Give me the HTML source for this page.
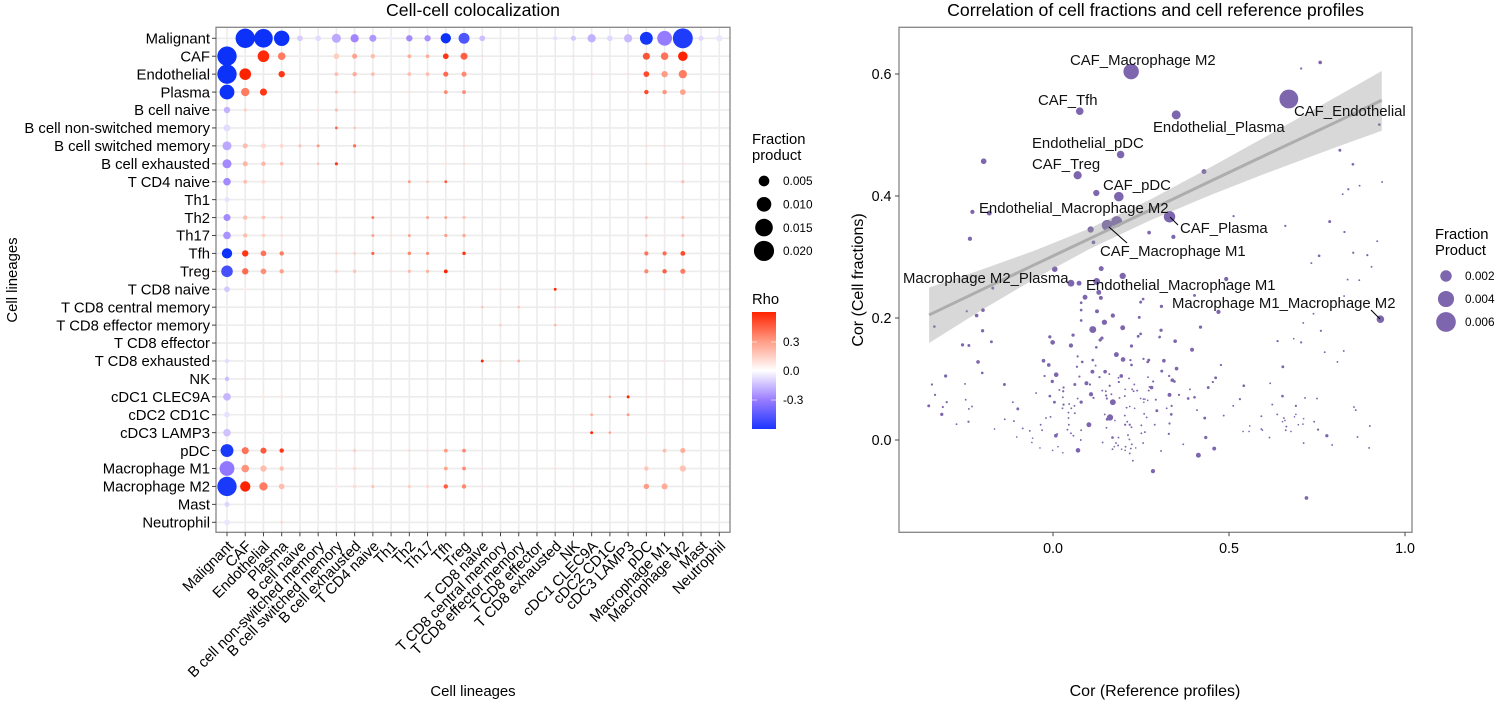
<!DOCTYPE html>
<html lang="en">
<head>
<meta charset="utf-8">
<title>Cell-cell colocalization</title>
<style>
html,body{margin:0;padding:0;background:#fff;width:1500px;height:705px;overflow:hidden}
svg{display:block;font-family:"Liberation Sans",Arial,sans-serif;fill:#000}
</style>
</head>
<body>
<svg id="figure" xmlns="http://www.w3.org/2000/svg" width="1500" height="705" viewBox="0 0 1500 705">
  <defs>
    <linearGradient id="rhoGradient" x1="0" y1="0" x2="0" y2="1">
      <stop offset="0" stop-color="#ff2200"/>
      <stop offset="0.25" stop-color="#ff9c85"/>
      <stop offset="0.5" stop-color="#ffffff"/>
      <stop offset="0.75" stop-color="#9a7dff"/>
      <stop offset="1" stop-color="#1c35ff"/>
    </linearGradient>
  </defs>
  <g id="leftPanel"></g>
  <g id="rightPanel"></g>

  <text x="473" y="16" text-anchor="middle" font-size="17.7">Cell-cell colocalization</text>
  <text x="473" y="696" text-anchor="middle" font-size="14.9">Cell lineages</text>
  <text transform="translate(17,280) rotate(-90)" text-anchor="middle" font-size="14.9">Cell lineages</text>

  <text x="1155.5" y="16" text-anchor="middle" font-size="17.7">Correlation of cell fractions and cell reference profiles</text>
  <text x="1155" y="696" text-anchor="middle" font-size="16">Cor (Reference profiles)</text>
  <text transform="translate(863,280) rotate(-90)" text-anchor="middle" font-size="16">Cor (Cell fractions)</text>

  <g id="leftSizeLegend">
    <text font-size="14.8" x="752" y="144">Fraction</text>
    <text font-size="14.8" x="752" y="160">product</text>
  </g>
  <g id="rhoLegend">
    <text font-size="14.8" x="752" y="304">Rho</text>
    <rect x="752" y="312" width="24" height="117" fill="url(#rhoGradient)"/>
  </g>
  <g id="rightSizeLegend">
    <text font-size="14.8" x="1435" y="239">Fraction</text>
    <text font-size="14.8" x="1435" y="255">Product</text>
  </g>
</svg>

<script>
/* ---------- left chart data ---------- */
const lineages = ["Malignant","CAF","Endothelial","Plasma","B cell naive","B cell non-switched memory","B cell switched memory","B cell exhausted","T CD4 naive","Th1","Th2","Th17","Tfh","Treg","T CD8 naive","T CD8 central memory","T CD8 effector memory","T CD8 effector","T CD8 exhausted","NK","cDC1 CLEC9A","cDC2 CD1C","cDC3 LAMP3","pDC","Macrophage M1","Macrophage M2","Mast","Neutrophil"];

const colsByRow = [
[1,2,3,4,5,6,7,8,9,10,11,12,13,14,18,19,20,21,22,23,24,25,26,27],
[0,2,3,4,6,7,8,10,11,12,13,14,18,19,23,24,25],
[0,1,3,6,7,8,10,11,12,13,20,22,23,24,25],
[0,1,2,6,7,10,12,13,20,22,23,24,25,27],
[0,1,5,6,7],
[0,4,6,7],
[0,1,2,3,4,5,7,12,13,23,24],
[0,1,2,3,4,5,6,12,13,23,25],
[0,1,2,10,11,12,13,23,25],
[0],
[0,1,2,3,8,11,12,13,23,25],
[0,1,2,3,8,9,10,12,13,23,24,25],
[0,1,2,3,6,7,8,10,11,13,22,23,24,25],
[0,1,2,3,6,7,9,10,11,12,23,24,25],
[0,1,15,18,24,25],
[14,16,18],
[15,18,14],
[],
[0,1,14,15,16,24],
[0,1,25],
[0,2,3,21,22,23],
[0,20,22],
[0,2,3,20,21,23],
[0,1,2,3,6,7,8,10,11,12,13,20,22,24,25],
[0,1,2,3,6,7,8,10,11,12,13,14,18,23,25],
[0,1,2,3,6,7,8,10,11,12,13,14,19,23,24],
[0],
[0,3,13]
];

const rhoByRow = [
[-.6,-.6,-.6,-.12,-.08,-.2,-.28,-.24,-.04,-.27,-.25,-.6,-.46,-.15,-.07,-.13,-.18,-.09,-.16,-.58,-.31,-.56,-.09,-.06],
[-.6,.58,.38,.05,.15,.28,.2,.25,.25,.55,.45,.1,.08,.1,.48,.4,.6],
[-.6,.6,.55,.2,.25,.2,.2,.2,.42,.35,.1,.1,.5,.3,.38],
[-.6,.38,.55,.2,.15,.1,.35,.35,.08,.08,.5,.32,.28,.1],
[-.18,.15,.1,.2,.1],
[-.08,.1,.42,.2],
[-.2,.2,.12,.12,.2,.32,.42,.08,.1,.1,.1],
[-.27,.22,.22,.2,.08,.2,.55,.1,.12,.12,.1],
[-.27,.2,.12,.3,.2,.45,.06,.06,.2],
[-.07],
[-.27,.2,.18,.15,.4,.3,.3,.2,.2,.2],
[-.25,.2,.15,.1,.3,.1,.3,.3,.25,.2,.08,.2],
[-.6,.55,.4,.38,.12,.15,.45,.35,.35,.55,.08,.4,.42,.5],
[-.48,.42,.33,.28,.15,.18,.1,.22,.25,.6,.35,.45,.38],
[-.13,.06,.1,.6,.1,.06],
[.2,.2,.1],
[.15,.25,.06],
[],
[-.08,.05,.6,.1,.25,.08],
[-.15,.1,.08],
[-.17,.07,.08,.3,.6,.08],
[-.07,.25,.3],
[-.14,.06,.05,.6,.3,.08],
[-.57,.4,.47,.55,.08,.15,.08,.12,.1,.3,.35,.06,.06,.2,.25],
[-.32,.32,.2,.2,.07,.1,.08,.06,.06,.28,.35,.1,.1,.17,.18],
[-.57,.6,.38,.2,.06,.1,.18,.15,.12,.45,.35,.1,.08,.3,.25],
[-.1],
[-.06,.15,.05]
];

const fracByRow = [
[.0183,.017,.0113,.00114,.00114,.0034,.0028,.0019,.00037,.0015,.0015,.0046,.0053,.00114,.00058,.00084,.0028,.00114,.0028,.0076,.0103,.0196,.00084,.0015],
[.0183,.006,.0023,.00015,.00114,.00084,.00058,.00037,.00037,.00114,.0019,.00009,.00005,.00005,.0019,.0023,.0039],
[.0183,.006,.0015,.00037,.00058,.00037,.00037,.00037,.00084,.00084,.00009,.00009,.00114,.0015,.0028],
[.0103,.0028,.0019,.00015,.00015,.00009,.00037,.00037,.00005,.00005,.00058,.00058,.00114,.00005],
[.0015,.00021,.00005,.00021,.00009],
[.0019,.00009,.00015,.00009],
[.0034,.00084,.00084,.00037,.00015,.00015,.00021,.00005,.00009,.00009,.00009],
[.0034,.00084,.00058,.00029,.00005,.00009,.00021,.00009,.00009,.00009,.00009],
[.0023,.00037,.00037,.00015,.00009,.00015,.00005,.00005,.00021],
[.00084],
[.0019,.00058,.00037,.00015,.00015,.00015,.00015,.00021,.00015,.00021],
[.0023,.00047,.00029,.00015,.00015,.00009,.00015,.00021,.00029,.00015,.00005,.00021],
[.0046,.0015,.00114,.00058,.00015,.00015,.00021,.00029,.00021,.00029,.00005,.00047,.00047,.0007],
[.006,.0015,.00114,.00058,.00021,.00029,.00009,.00021,.00021,.00037,.00047,.00058,.00084],
[.00114,.00021,.00009,.00015,.00009,.00005],
[.00009,.00009,.00009],
[.00015,.00009,.00002],
[],
[.00058,.00005,.00015,.00015,.00015,.00005],
[.00058,.00009,.00005],
[.0023,.00015,.00015,.00009,.00015,.00005],
[.00114,.00015,.00015],
[.0023,.00009,.00005,.00015,.00009,.00005],
[.0076,.0019,.0013,.00058,.00009,.00021,.00009,.00009,.00009,.00037,.00037,.00005,.00005,.00037,.00084],
[.0103,.0023,.0015,.00058,.00021,.00037,.00009,.00009,.00005,.00037,.00037,.00005,.00009,.00058,.0015],
[.0183,.0046,.0028,.00114,.00021,.00037,.00021,.00021,.00021,.00058,.00058,.00005,.00005,.00099,.0013],
[.00084],
[.00114,.00009,.00002]
];

const sizeLegendFracs = [0.005,0.010,0.015,0.020];
const sizeLegendLabels = ["0.005","0.010","0.015","0.020"];
const rhoLegendTicks = [0.3,0.0,-0.3];
const rhoLegendLabels = ["0.3","0.0","-0.3"];

/* ---------- right chart data ---------- */
const pointX = [
.222,.076,.192,-.197,.070,.123,.187,-.229,-.181,.107,.154,.181,.273,.115,-.236,.005,.137,.198,
.670,.350,.759,.705,.429,.815,.852,.927,.871,.935,.839,.823,.331,.342,.513,.660,.786,.828,.921,.756,.853,.893,.734,.905,
.492,.837,.870,.402,.827,.308,.470,.930,.740,.711,
.307,.419,.761,.303,.347,.638,.684,.705,.395,.772,
.826,.808,.315,.477,.653,.351,.309,.330,.339,.345,
.284,.462,.454,.441,.542,.617,.280,.389,.331,.358,
.384,.402,.652,.716,.750,.531,.512,.292,.623,.690,
.323,.337,.295,.409,.336,.855,.860,.485,.592,.637,
.690,.686,.656,.659,.652,.712,.742,.431,.289,.331,
.559,.663,.697,.710,.900,.592,.595,.661,.676,.540,
.557,.753,.329,.434,.615,.778,.865,.712,.793,.370,
.898,.458,.307,.413,.284,.720,
.051,.074,.124,.130,.091,.136,.080,.256,.249,.080,
.125,.170,.245,.080,.146,.113,.198,.249,.242,.302,
-.009,.057,.139,.134,-.001,.051,.123,.223,.180,.199,
.220,.223,.257,.272,.269,.070,.083,.113,.121,-.027,
-.012,.068,.112,.148,.160,.009,-.024,.075,.132,.194,
.186,.216,.270,.285,-.002,.095,.105,.062,.161,.187,
.231,.274,.281,.272,.225,.239,.229,.030,.018,.029,
-.048,.140,.150,.166,.151,.205,.204,.189,.108,.115,
.153,-.009,.028,.070,.004,.080,.170,.249,.257,.261,
.269,.258,.292,.030,.046,.061,.052,.027,.044,.062,
.209,.218,.232,.259,.266,.147,.204,.162,.154,.176,
-.020,-.007,.044,.211,.205,.218,.223,.251,.102,.152,
.045,.041,-.035,-.031,-.086,-.066,-.111,-.137,-.166,-.103,
-.058,-.060,-.037,-.001,.014,.028,.071,.008,.012,.051,
.058,.080,.079,.169,.186,.213,.217,.224,.179,.185,
.174,.169,.195,.206,.205,.218,.221,.235,.141,.256,
.251,.261,.227,-.114,-.100,-.353,-.313,-.302,-.335,-.344,
-.305,-.250,-.248,-.239,-.230,-.316,-.274,-.240,-.138,-.201,
-.213,-.175,-.200,-.257,-.239,-.217,-.199,-.245,-.337,-.171
];

const pointY = [
.604,.539,.468,.457,.434,.405,.399,.374,.372,.345,.352,.358,.340,.324,.330,.280,.281,.269,
.559,.533,.619,.609,.440,.475,.452,.517,.417,.423,.411,.403,.366,.333,.367,.351,.358,.341,.326,.302,.307,.303,.290,.284,
.264,.263,.262,.237,.236,.219,.210,.198,.207,.192,
.180,.185,.179,.169,.162,.162,.166,.160,.148,.144,
.146,.128,.130,.123,.120,.117,.113,.105,.098,.096,
.096,.102,.095,.086,.089,.093,.086,.083,.074,.074,
.068,.070,.072,.069,.068,.067,.056,.066,.058,.056,
.052,.056,.048,.049,.042,.054,.049,.040,.039,.042,
.042,.038,.036,.032,.030,.035,.030,.036,.025,.027,
.023,.022,.025,.026,.023,.018,.016,.016,.014,.014,
.014,.017,.010,.004,.004,.007,.005,-.005,-.008,-.007,
-.013,-.014,-.018,-.025,-.051,-.095,
.257,.257,.260,.242,.234,.233,.225,.231,.226,.213,
.211,.204,.201,.196,.193,.181,.184,.174,.170,.168,
.169,.172,.167,.164,.160,.155,.152,.154,.140,.132,
.131,.123,.133,.131,.128,.137,.128,.131,.122,.130,
.123,.120,.112,.112,.108,.107,.105,.104,.103,.105,
.102,.101,.103,.096,.096,.093,.091,.091,.089,.095,
.091,.087,.086,.081,.083,.081,.080,.086,.082,.080,
.077,.081,.080,.075,.073,.083,.072,.069,.075,.069,
.068,.072,.070,.068,.062,.062,.062,.068,.067,.067,
.065,.062,.066,.058,.059,.056,.052,.052,.045,.044,
.053,.055,.052,.043,.037,.042,.040,.037,.034,.032,
.036,.038,.036,.030,.025,.025,.021,.024,.025,.020,
.025,.017,.025,.016,.019,.015,.031,.034,.018,.005,
.003,-.004,-.013,-.017,-.011,-.021,-.017,.007,.010,.011,
.007,.016,.000,.004,.004,.008,.001,-.007,-.005,-.009,
-.011,-.015,-.015,-.011,-.017,-.022,-.014,-.013,-.004,-.005,
.011,.013,-.034,.062,.051,.056,.054,.062,.074,.091,
.105,.092,.066,.051,.055,.042,.026,.030,.091,.110,
.128,.161,.179,.156,.155,.204,.213,.211,.186,.249
];

const pointFrac = [
.0037,.00085,.00085,.00045,.001,.00057,.00137,.00025,.00034,.00057,.0018,.0018,.00018,.00018,.00025,.00045,.00034,.00057,
.0055,.0012,.00018,.00006,.00034,.00011,.00009,.00009,.00004,.00004,.00006,.00004,.002,.00025,.00006,.00006,.00011,.00006,.00004,.00009,.00006,.00006,.00004,.00004,
.00025,.00004,.00004,.00011,.00004,.00014,.00025,.00085,.00004,.00004,
.00014,.00014,.00006,.00009,.00018,.00006,.00003,.00006,.00021,.00004,
.00004,.00004,.00018,.00006,.00011,.00018,.00011,.00006,.00018,.00009,
.00004,.00011,.00006,.00011,.00009,.00004,.00018,.00004,.00021,.00006,
.00009,.00009,.00009,.00004,.00004,.00006,.00004,.00004,.00004,.00006,
.00004,.00006,.00011,.00004,.00009,.00004,.00004,.00004,.00004,.00004,
.00003,.00003,.00004,.00003,.00003,.00003,.00004,.00011,.00004,.00006,
.00003,.00004,.00003,.00003,.00004,.00004,.00003,.00004,.00003,.00003,
.00003,.00006,.00006,.00014,.00004,.00014,.00004,.00004,.00004,.00004,
.00004,.00021,.00004,.00034,.00025,.00018,
.0007,.00034,.0007,.00034,.00034,.00021,.00009,.00009,.00011,.00009,
.00021,.00025,.00011,.00009,.0004,.0007,.00034,.00009,.00011,.00004,
.00014,.00014,.00014,.00014,.0003,.00025,.00009,.00014,.00034,.0003,
.00006,.00009,.00006,.00011,.00009,.00006,.00009,.00009,.00004,.00018,
.00018,.00006,.00021,.00018,.00004,.0003,.00006,.00006,.00006,.00018,
.00004,.00004,.00004,.00004,.00014,.00021,.00006,.00011,.00006,.00006,
.00004,.00004,.00004,.00004,.00004,.00004,.00004,.00006,.00004,.00006,
.00004,.00004,.00004,.00004,.00006,.00003,.00004,.00004,.00025,.00006,
.00006,.00009,.00004,.00004,.00011,.00014,.0005,.00003,.00003,.00003,
.00003,.00003,.00004,.00006,.00004,.00004,.00004,.00004,.00004,.00004,
.00004,.00003,.00003,.00004,.00004,.00004,.00004,.00057,.00011,.00003,
.00004,.00004,.00004,.00004,.00006,.00006,.00004,.00004,.00034,.00004,
.00004,.00004,.00004,.00004,.00004,.00004,.00004,.00004,.00003,.00003,
.00003,.00003,.00003,.00003,.00003,.00003,.0003,.00018,.00004,.00004,
.00004,.00004,.00004,.00009,.00004,.00004,.00004,.00004,.00004,.00004,
.00003,.00004,.00003,.00004,.00003,.00004,.00004,.00003,.00004,.00004,
.00004,.00004,.00004,.00004,.00011,.00011,.00006,.00006,.00006,.00006,
.00014,.00004,.00004,.00004,.00004,.00014,.00004,.00006,.00011,.00009,
.00018,.00011,.00014,.00014,.00011,.00018,.00018,.00006,.00009,.00011
];

const fitX = [-.352,-.2,-.05,.1,.276,.45,.6,.8,.934];
const fitY = [.205,.247,.288,.329,.377,.425,.466,.520,.557];
const fitUpper = [.250,.280,.311,.346,.394,.448,.496,.561,.605];
const fitLower = [.159,.214,.265,.312,.360,.402,.436,.479,.507];

const rightXTicks = [0,0.5,1];
const rightXTickLabels = ["0.0","0.5","1.0"];
const rightYTicks = [0,0.2,0.4,0.6];
const rightYTickLabels = ["0.0","0.2","0.4","0.6"];
const rightLegendFracs = [0.002,0.004,0.006];
const rightLegendLabels = ["0.002","0.004","0.006"];

/* ---------- helpers and scales ---------- */
const NS = "http://www.w3.org/2000/svg";
function make(parent, tag, attrs, txt) {
  const el = document.createElementNS(NS, tag);
  for (const k in attrs) el.setAttribute(k, attrs[k]);
  if (txt !== undefined) el.textContent = txt;
  parent.appendChild(el);
  return el;
}
const L = {left:216, right:730, top:27.3, bottom:532.3};
const R = {left:899, right:1412, top:27.3, bottom:532.3};
const lx = i => 227 + i * 18.233;
const ly = i => 38.3 + i * 17.926;
const lr = f => 67 * Math.sqrt(f) + 0.6;
const rx = v => 1053 + v * 352;
const ry = v => 440 - v * 610;
const rr = f => 125 * Math.sqrt(f) + 0.15;
const legendRhoY = v => 371 - v * 96.7;

const rhoStops = [[-.6,[12,50,250]],[-.3,[154,125,255]],[0,[255,255,255]],[.3,[255,156,133]],[.6,[255,34,0]]];
function rhoColor(v) {
  const c = Math.max(-.6, Math.min(.6, v));
  for (let i = 0; i < rhoStops.length - 1; i++) {
    const a = rhoStops[i], b = rhoStops[i + 1];
    if (c <= b[0]) {
      const t = (c - a[0]) / (b[0] - a[0]);
      return "rgb(" + a[1].map((q, j) => Math.round(q + (b[1][j] - q) * t)).join(",") + ")";
    }
  }
  return "rgb(255,34,0)";
}

/* ---------- left panel ---------- */
const lp = document.getElementById("leftPanel");
lineages.forEach((name, i) => {
  const gv = make(lp, "line", {x1:lx(i), x2:lx(i), y1:L.top, y2:L.bottom, stroke:"#ececec", "stroke-width":1.6});
  
  
  const gh = make(lp, "line", {x1:L.left, x2:L.right, y1:ly(i), y2:ly(i), stroke:"#ececec", "stroke-width":1.6});
  
  
});
rhoByRow.forEach((rowRho, r) => {
  rowRho.forEach((rho, k) => {
    const dot = make(lp, "circle", {cx:lx(colsByRow[r][k]), cy:ly(r), r:lr(fracByRow[r][k]), fill:rhoColor(rho)});
    
    
  });
});
const lBorder = make(lp, "rect", {x:L.left, y:L.top, width:L.right-L.left, height:L.bottom-L.top, fill:"none", stroke:"#858585", "stroke-width":1.3});


lineages.forEach((name, i) => {
  const ty = make(lp, "line", {x1:212, x2:L.left, y1:ly(i), y2:ly(i), stroke:"#444", "stroke-width":1});
  
  
  const ly1 = make(lp, "text", {x:210, y:ly(i)+5.2, "text-anchor":"end", "font-size":14.85}, name);
  
  
  const tx = make(lp, "line", {x1:lx(i), x2:lx(i), y1:L.bottom, y2:L.bottom+4, stroke:"#444", "stroke-width":1});
  
  
  const lb = make(lp, "text", {transform:"translate("+(lx(i)+7)+",547) rotate(-45)", "text-anchor":"end", "font-size":14.85}, name);
  
  
});

/* ---------- left legends ---------- */
const sl = document.getElementById("leftSizeLegend");
sizeLegendFracs.forEach((f, i) => {
  const c = make(sl, "circle", {cx:764, cy:181+i*23.3, r:lr(f), fill:"#000"});
  
  
  const t = make(sl, "text", {x:783, y:181+i*23.3+4.2, "font-size":11.8}, sizeLegendLabels[i]);
  
  
});
const rl = document.getElementById("rhoLegend");
rhoLegendTicks.forEach((v, i) => {
  const a = make(rl, "line", {x1:752, x2:757, y1:legendRhoY(v), y2:legendRhoY(v), stroke:"#fff", "stroke-width":.6});
  
  
  const b = make(rl, "line", {x1:771, x2:776, y1:legendRhoY(v), y2:legendRhoY(v), stroke:"#fff", "stroke-width":.6});
  
  
  const t = make(rl, "text", {x:783, y:legendRhoY(v)+4.2, "font-size":11.8}, rhoLegendLabels[i]);
  
  
});

/* ---------- right panel ---------- */
const rp = document.getElementById("rightPanel");
pointX.forEach((x, i) => {
  const p = make(rp, "circle", {cx:rx(x), cy:ry(pointY[i]), r:rr(pointFrac[i]), fill:"#7d66ad"});
  
  
});
const bandPts = fitX.map((x, i) => rx(x)+","+ry(fitUpper[i]))
  .concat(fitX.map((x, i) => rx(x)+","+ry(fitLower[i])).reverse()).join(" ");
const band = make(rp, "polygon", {points:bandPts, fill:"#999999", "fill-opacity":.38});


const fit = make(rp, "polyline", {points:fitX.map((x, i) => rx(x)+","+ry(fitY[i])).join(" "), fill:"none", stroke:"#adadad", "stroke-width":3});


const rBorder = make(rp, "rect", {x:R.left, y:R.top, width:R.right-R.left, height:R.bottom-R.top, fill:"none", stroke:"#858585", "stroke-width":1.3});


rightXTicks.forEach((v, i) => {
  const t = make(rp, "line", {x1:rx(v), x2:rx(v), y1:R.bottom, y2:R.bottom+4, stroke:"#444", "stroke-width":1});
  
  
  const l = make(rp, "text", {x:rx(v), y:553, "text-anchor":"middle", "font-size":14.3}, rightXTickLabels[i]);
  
  
});
rightYTicks.forEach((v, i) => {
  const t = make(rp, "line", {x1:R.left-4, x2:R.left, y1:ry(v), y2:ry(v), stroke:"#444", "stroke-width":1});
  
  
  const l = make(rp, "text", {x:891.5, y:ry(v)+5, "text-anchor":"end", "font-size":14.3}, rightYTickLabels[i]);
  
  
});

/* ---------- right legend ---------- */
const sr = document.getElementById("rightSizeLegend");
rightLegendFracs.forEach((f, i) => {
  const c = make(sr, "circle", {cx:1446, cy:276+i*23, r:rr(f), fill:"#7d66ad"});
  
  
  const t = make(sr, "text", {x:1465, y:276+i*23+4.2, "font-size":11.8}, rightLegendLabels[i]);
  
  
});
</script>

<svg xmlns="http://www.w3.org/2000/svg" width="1500" height="705" viewBox="0 0 1500 705" style="position:absolute;left:0;top:0;font-family:'Liberation Sans',Arial,sans-serif;font-size:14.9px;fill:#111">
  <line x1="1170" y1="217" x2="1178" y2="225" stroke="#000" stroke-width="1.1"/>
  <line x1="1109" y1="227" x2="1127" y2="243" stroke="#000" stroke-width="1.1"/>
  <line x1="1371" y1="310" x2="1380" y2="319" stroke="#000" stroke-width="1.1"/>
  <text x="1070" y="65">CAF_Macrophage M2</text>
  <text x="1038" y="105">CAF_Tfh</text>
  <text x="1153" y="132">Endothelial_Plasma</text>
  <text x="1294" y="116">CAF_Endothelial</text>
  <text x="1032" y="148">Endothelial_pDC</text>
  <text x="1032" y="169">CAF_Treg</text>
  <text x="1103" y="190">CAF_pDC</text>
  <text x="979" y="213">Endothelial_Macrophage M2</text>
  <text x="1180" y="233">CAF_Plasma</text>
  <text x="1100" y="256">CAF_Macrophage M1</text>
  <text x="903" y="283">Macrophage M2_Plasma</text>
  <text x="1086" y="290">Endothelial_Macrophage M1</text>
  <text x="1172" y="308">Macrophage M1_Macrophage M2</text>
</svg>
</body>
</html>
